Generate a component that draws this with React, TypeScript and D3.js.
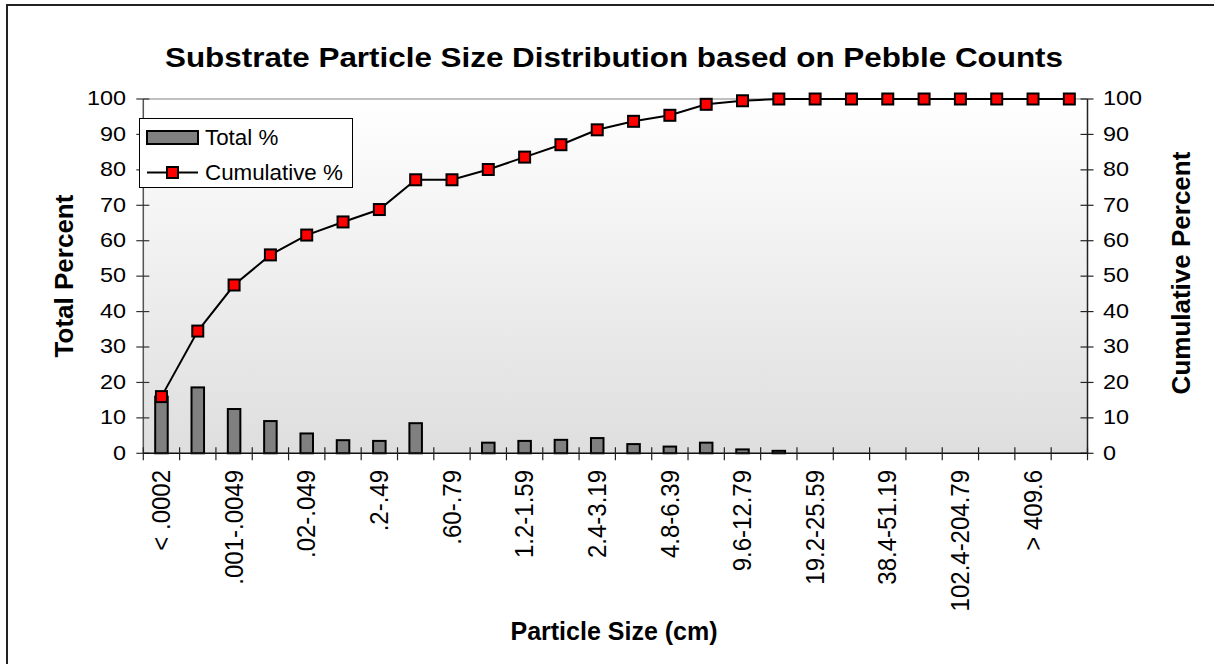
import React from "react";
import * as d3 from "d3";

const categories = [
  "< .0002", ".0002-.0009", ".001-.0049", ".005-.019", ".02-.049", ".05-.19",
  ".2-.49", ".5-.59", ".60-.79", ".8-1.19", "1.2-1.59", "1.6-2.39",
  "2.4-3.19", "3.2-4.79", "4.8-6.39", "6.4-9.59", "9.6-12.79", "12.8-19.19",
  "19.2-25.59", "25.6-38.39", "38.4-51.19", "51.2-102.39", "102.4-204.79", "204.8-409.59",
  "> 409.6", "Bedrock",
];
const totalPct = [16, 18.6, 12.5, 9.1, 5.6, 3.7, 3.5, 8.5, 0, 3.0, 3.5, 3.8, 4.3, 2.6, 1.9, 3.0, 1.1, 0.7, 0, 0, 0, 0, 0, 0, 0, 0];
const cumulativePct = [16, 34.5, 47.5, 56, 61.6, 65.3, 68.8, 77.2, 77.2, 80.1, 83.6, 87.1, 91.3, 93.7, 95.4, 98.5, 99.5, 100, 100, 100, 100, 100, 100, 100, 100, 100];
const yTicks = [0, 10, 20, 30, 40, 50, 60, 70, 80, 90, 100];
const title = "Substrate Particle Size Distribution based on Pebble Counts";
const xTitle = "Particle Size (cm)";
const yLeftTitle = "Total Percent";
const yRightTitle = "Cumulative Percent";
const legendLabels = ["Total %", "Cumulative %"];

const W = 1214;
const H = 664;
const X0 = 143.3;
const X1 = 1087.5;
const Y0 = 453.3;
const Y1 = 99;
const FONT = "'Liberation Sans', Arial, sans-serif";

function ST({ x, y, sx = 1.2, rot = 0, anchor = "start", size = 20, weight = "normal", children, base = "central" }: any) {
  return (
    <text
      transform={`translate(${x},${y}) scale(${sx},1)${rot ? ` rotate(${rot})` : ""}`}
      textAnchor={anchor}
      dominantBaseline={base}
      fontFamily={FONT}
      fontSize={size}
      fontWeight={weight}
      fill="#000"
    >
      {children}
    </text>
  );
}

export default function App() {
  const x = d3.scaleBand<string>().domain(categories).range([X0, X1]).padding(0);
  const y = d3.scaleLinear().domain([0, 100]).range([Y0, Y1]);
  const bw = x.bandwidth();
  const cx = (c: string) => (x(c) as number) + bw / 2;
  const line = d3
    .line<number>()
    .x((_, i) => cx(categories[i]))
    .y((d) => y(d));
  const barW = bw * 0.4 - 2;
  const ms = 11;

  return (
    <svg
      width={W}
      height={H}
      style={{ position: "absolute", left: 0, top: 0, display: "block", background: "#fff" }}
    >
      <defs>
        <linearGradient id="bg" x1="0" y1="0" x2="0" y2="1">
          <stop offset="0" stopColor="#ffffff" />
          <stop offset="1" stopColor="#dedede" />
        </linearGradient>
      </defs>
      <rect x={7} y={5} width={1400} height={900} fill="#fff" stroke="#222" strokeWidth={2} />

      {/* title */}
      <text x={614} y={67} textAnchor="middle" fontFamily={FONT} fontSize={28} fontWeight="bold" textLength={898} lengthAdjust="spacingAndGlyphs">
        {title}
      </text>

      {/* plot background */}
      <rect x={X0} y={Y1} width={X1 - X0} height={Y0 - Y1} fill="url(#bg)" />
      <line x1={X0} x2={X1} y1={y(100)} y2={y(100)} stroke="#c0c0c0" strokeWidth={2} />

      {/* left axis */}
      <line x1={X0} x2={X0} y1={Y1} y2={Y0} stroke="#555" strokeWidth={1.5} />
      {yTicks.map((t) => (
        <g key={"l" + t}>
          <line x1={X0 - 7} x2={X0 + 6} y1={y(t)} y2={y(t)} stroke="#333" strokeWidth={1.2} />
          <ST x={126} y={y(t)} anchor="end" size={19.5}>{t}</ST>
        </g>
      ))}
      {/* right axis */}
      <line x1={X1} x2={X1} y1={Y1} y2={Y0} stroke="#222" strokeWidth={1.5} />
      {yTicks.map((t) => (
        <g key={"r" + t}>
          <line x1={X1 - 7} x2={X1 + 6} y1={y(t)} y2={y(t)} stroke="#222" strokeWidth={1.2} />
          <ST x={1103} y={y(t)} anchor="start" size={19.5}>{t}</ST>
        </g>
      ))}

      {/* bars */}
      {totalPct.map((v, i) =>
        v > 0 ? (
          <rect
            key={"b" + i}
            x={cx(categories[i]) - barW / 2}
            y={y(v)}
            width={barW}
            height={Y0 - y(v)}
            fill="#808080"
            stroke="#000"
            strokeWidth={2}
          />
        ) : null
      )}

      {/* x axis */}
      <line x1={X0} x2={X1} y1={Y0} y2={Y0} stroke="#111" strokeWidth={1.5} />
      {[...categories.map((c) => x(c) as number), X1].map((t, i) => (
        <line key={"xt" + i} x1={t} x2={t} y1={Y0 - 6} y2={Y0 + 7} stroke="#222" strokeWidth={1.2} />
      ))}
      {categories.map((c, i) =>
        i % 2 === 0 ? (
          <ST key={"xl" + i} x={cx(c)} y={470} rot={-90} anchor="end" size={24} sx={1.05}>{c}</ST>
        ) : null
      )}

      {/* cumulative line */}
      <path d={line(cumulativePct) as string} fill="none" stroke="#000" strokeWidth={2} />
      {cumulativePct.map((v, i) => (
        <rect key={"m" + i} x={cx(categories[i]) - ms / 2} y={y(v) - ms / 2} width={ms} height={ms} fill="#ff0000" stroke="#000" strokeWidth={2} />
      ))}

      {/* axis titles */}
      <ST x={614} y={631} anchor="middle" size={25} weight="bold" sx={1}>{xTitle}</ST>
      <ST x={63.5} y={276} anchor="middle" size={26} weight="bold" rot={-90} sx={1}>{yLeftTitle}</ST>
      <ST x={1181} y={273} anchor="middle" size={26} weight="bold" rot={-90} sx={1}>{yRightTitle}</ST>

      {/* legend */}
      <rect x={139.5} y={118.5} width={213} height={69} fill="#fff" stroke="#000" strokeWidth={1} />
      <rect x={147} y={131} width={51} height={13} fill="#808080" stroke="#000" strokeWidth={2} />
      <ST x={205} y={138} size={21.5} sx={1.04}>{legendLabels[0]}</ST>
      <line x1={147} x2={198} y1={172.5} y2={172.5} stroke="#000" strokeWidth={2} />
      <rect x={172.5 - ms / 2} y={172.5 - ms / 2} width={ms} height={ms} fill="#ff0000" stroke="#000" strokeWidth={2} />
      <ST x={205} y={172.5} size={21.5} sx={1.04}>{legendLabels[1]}</ST>
    </svg>
  );
}
